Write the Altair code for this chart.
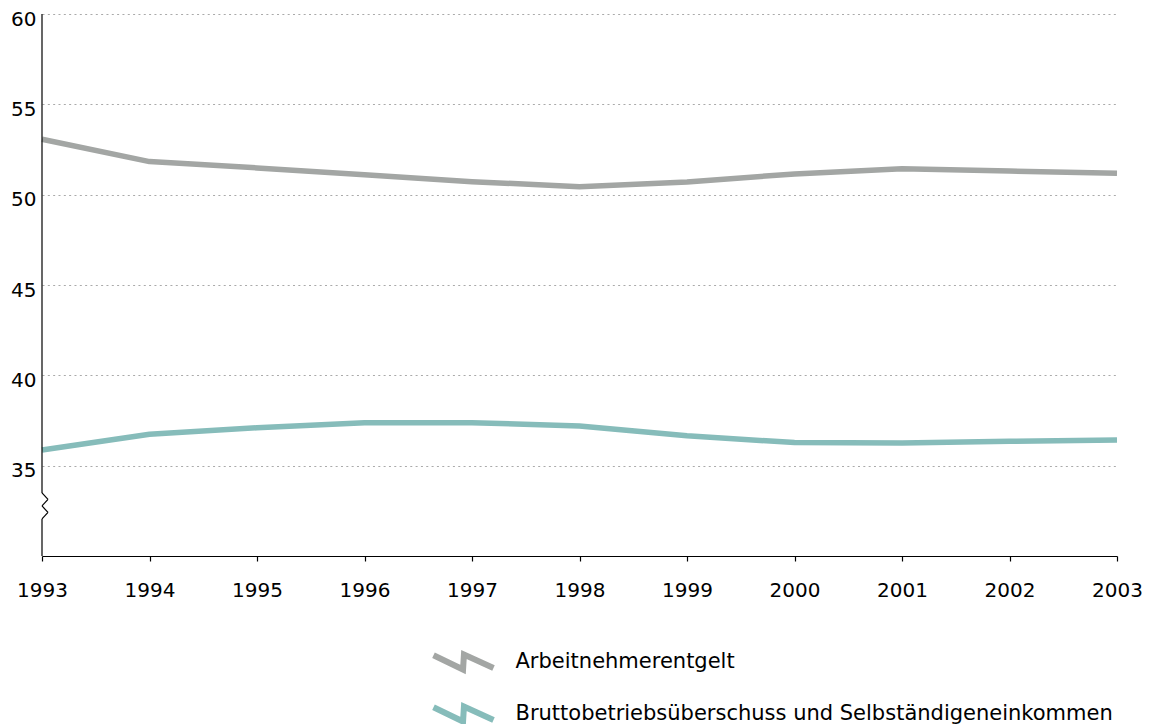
import altair as alt
import pandas as pd

years = [1993, 1994, 1995, 1996, 1997, 1998, 1999, 2000, 2001, 2002, 2003]
arbeitnehmer = [53.07, 51.83, 51.48, 51.10, 50.72, 50.44, 50.70, 51.15, 51.44, 51.31, 51.18]
brutto = [35.87, 36.74, 37.10, 37.38, 37.38, 37.20, 36.65, 36.28, 36.26, 36.35, 36.42]
series_names = ["Arbeitnehmerentgelt", "Bruttobetriebsüberschuss und Selbständigeneinkommen"]
series_colors = ["#a3a6a4", "#86bcba"]
y_ticks = [35, 40, 45, 50, 55, 60]

# axis break (zigzag) levels on the y axis, in data units
break_top = 33.49
break_pts = [33.49, 33.13, 32.77, 32.41, 32.05]
y_min, y_max = 30, 60

FONT = "DejaVu Sans"
W, H = 1075, 542

rows = []
for i, yr in enumerate(years):
    rows.append({"year": yr, "value": arbeitnehmer[i], "series": series_names[0]})
    rows.append({"year": yr, "value": brutto[i], "series": series_names[1]})
df = pd.DataFrame(rows)

x_scale = alt.Scale(domain=[years[0], years[-1]], nice=False, zero=False)
y_scale = alt.Scale(domain=[y_min, y_max], nice=False, zero=False)

legend_path = "M -2 -0.45 L -0.03 0.5 L 0.03 -0.5 L 2 0.4"

lines = alt.Chart(df).mark_line(strokeWidth=5.5, strokeJoin="round").encode(
    x=alt.X("year:Q", scale=x_scale,
            axis=alt.Axis(values=years, format="d", title=None, grid=False,
                          domainColor="black", domainWidth=1.2,
                          tickColor="black", tickSize=5, tickWidth=1.2,
                          labelPadding=19, labelFontSize=20, labelFont=FONT,
                          labelColor="black", labelFlush=False)),
    y=alt.Y("value:Q", scale=y_scale,
            axis=alt.Axis(values=y_ticks, title=None, domain=False, ticks=False,
                          grid=True, gridDash=[2, 3.33], gridColor="#aaaaaa",
                          gridWidth=1.2, labelFontSize=20, labelFont=FONT,
                          labelColor="black", labelPadding=6, labelOffset=5)),
    color=alt.Color("series:N",
                    scale=alt.Scale(domain=series_names, range=series_colors),
                    legend=alt.Legend(title=None, orient="none", legendX=403.5, legendY=630,
                                      direction="vertical", symbolType=legend_path,
                                      symbolSize=900, symbolStrokeWidth=6,
                                      symbolFillColor="transparent",
                                      labelFontSize=21, labelFont=FONT, labelColor="black",
                                      labelOffset=34, rowPadding=12, padding=0,
                                      labelLimit=1000)),
)

# custom y axis line with zigzag break
vert_df = pd.DataFrame({"y": [y_max, break_pts[-1]], "y2": [break_top, y_min]})
vert = alt.Chart(vert_df).mark_rule(color="black", strokeWidth=1.2).encode(
    x=alt.value(0), y=alt.Y("y:Q", scale=y_scale), y2="y2:Q")

right_df = pd.DataFrame({"y": [break_pts[0], break_pts[2]], "y2": [break_pts[1], break_pts[3]]})
zig_r = alt.Chart(right_df).mark_rule(color="black", strokeWidth=1.2).encode(
    x=alt.value(0), x2=alt.value(6), y=alt.Y("y:Q", scale=y_scale), y2="y2:Q")

left_df = pd.DataFrame({"y": [break_pts[1], break_pts[3]], "y2": [break_pts[2], break_pts[4]]})
zig_l = alt.Chart(left_df).mark_rule(color="black", strokeWidth=1.2).encode(
    x=alt.value(6), x2=alt.value(0), y=alt.Y("y:Q", scale=y_scale), y2="y2:Q")

chart = alt.layer(lines, vert, zig_r, zig_l).properties(
    width=W, height=H,
    background="white",
    autosize=alt.AutoSizeParams(type="none"),
    padding={"left": 34, "top": 6, "right": 27, "bottom": 180},
).configure_view(stroke=None)

chart.save("out.html", embed_options={"renderer": "svg", "actions": False})
